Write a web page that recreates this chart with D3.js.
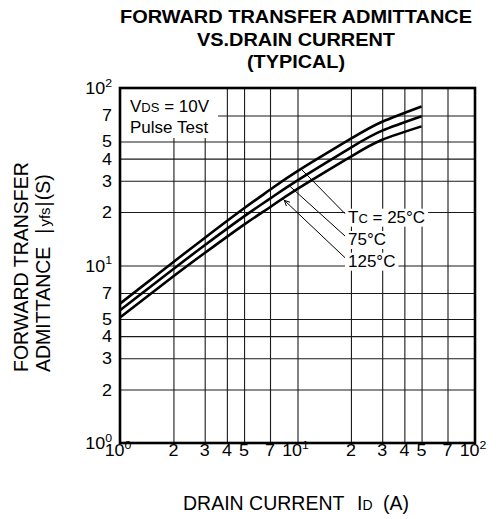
<!DOCTYPE html>
<html><head><meta charset="utf-8">
<script src="https://cdn.jsdelivr.net/npm/d3@7"></script>
<style>
body{margin:0;background:#fff}
svg{display:block;font-family:Arial,"Liberation Sans",Helvetica,sans-serif}
</style>
</head><body>
<svg id="chart" width="496" height="519"></svg>
<script>
// ---- data ----
const drainCurrent = [1, 2, 3, 5, 7, 10, 20, 30, 50];
const yfs25C  = [6.1, 10.47, 14.3, 21.0, 26.7, 34.0, 51.8, 64.5, 78.7];
const yfs75C  = [5.6, 9.56, 13.0, 18.9, 23.8, 30.2, 46.2, 57.5, 69.3];
const yfs125C = [5.09, 8.69, 11.76, 17.0, 21.3, 27.0, 41.1, 51.1, 60.8];
const seriesLabels = ["25°C", "75°C", "125°C"];
const leaderAnchorsA = [10.56, 9.07, 8.32];
const gridValues = [2, 3, 4, 5, 7, 10, 20, 30, 40, 50, 70];
const minorTickValues = [2, 3, 4, 5, 7, 20, 30, 40, 50, 70];
const minorTickLabels = ["2", "3", "4", "5", "7", "2", "3", "4", "5", "7"];
const decadeValues = [1, 10, 100];
const decadeExponents = ["0", "1", "2"];
const titleLines = ["FORWARD TRANSFER ADMITTANCE", "VS.DRAIN CURRENT", "(TYPICAL)"];

// ---- layout ----
const L = 120, R = 475, T = 88, B = 443;
const svg = d3.select("#chart");
const x = d3.scaleLog().domain([1, 100]).range([L, R]);
const y = d3.scaleLog().domain([1, 100]).range([B, T]);

// grid via axes
const gx = svg.append("g").attr("transform", `translate(0,${B})`)
  .call(d3.axisBottom(x).tickValues(gridValues).tickSize(-(B - T)).tickFormat(""));
const gy = svg.append("g").attr("transform", `translate(${L},0)`)
  .call(d3.axisLeft(y).tickValues(gridValues).tickSize(-(R - L)).tickFormat(""));
[gx, gy].forEach(g => {
  g.select(".domain").remove();
  g.selectAll("line").attr("stroke", "#1a1a1a").attr("stroke-width", 1.1);
});

// white box behind condition text
svg.append("rect").attr("x", L).attr("y", T).attr("width", 98).attr("height", 50).attr("fill", "#fff");

const labelLayer = svg.append("g");

// frame
svg.append("rect").attr("x", L).attr("y", T).attr("width", R - L).attr("height", B - T)
  .attr("fill", "none").attr("stroke", "#000").attr("stroke-width", 2.6);

// curves
const series = [yfs25C, yfs75C, yfs125C];
const line = d3.line().x(d => x(d[0])).y(d => y(d[1])).curve(d3.curveNatural);
series.forEach(s => {
  svg.append("path").datum(drainCurrent.map((a, i) => [a, s[i]]))
    .attr("d", line).attr("fill", "none").attr("stroke", "#000")
    .attr("stroke-width", 2.6).attr("stroke-linejoin", "round");
});

function valueAt(s, a) {
  for (let i = 0; i < drainCurrent.length - 1; i++) {
    if (a >= drainCurrent[i] && a <= drainCurrent[i + 1]) {
      const t = (Math.log(a) - Math.log(drainCurrent[i])) / (Math.log(drainCurrent[i + 1]) - Math.log(drainCurrent[i]));
      return Math.exp(Math.log(s[i]) + t * (Math.log(s[i + 1]) - Math.log(s[i])));
    }
  }
  return s[s.length - 1];
}

// temperature labels
const labelX = 348, labelBase = [222.7, 245, 266.7];
seriesLabels.forEach((lab, i) => {
  const t = labelLayer.append("text").attr("x", labelX).attr("y", labelBase[i])
    .attr("font-size", 17).attr("fill", "#000");
  if (i === 0) {
    t.append("tspan").text("T");
    t.append("tspan").attr("font-size", 13).text("C");
    t.append("tspan").text(" = " + lab);
  } else t.text(lab);
  const bb = t.node().getBBox();
  labelLayer.insert("rect", "text").attr("x", bb.x - 3).attr("y", bb.y + 1)
    .attr("width", bb.width + 6).attr("height", bb.height - 1).attr("fill", "#fff");
  const a = leaderAnchorsA[i];
  const x0 = x(a), y0 = y(valueAt(series[i], a));
  const x1 = 345, y1 = labelBase[i] - 9;
  svg.append("line").attr("x1", x0).attr("y1", y0 + 1).attr("x2", x1).attr("y2", y1)
    .attr("stroke", "#000").attr("stroke-width", 1);
  if (i === 2) {
    const ang = Math.atan2(y1 - y0, x1 - x0);
    const ax = x0 + 1, ay = y0 + 2;
    [0.45, -0.45].forEach(d => {
      svg.append("line").attr("x1", ax).attr("y1", ay)
        .attr("x2", ax + 6 * Math.cos(ang + d)).attr("y2", ay + 6 * Math.sin(ang + d))
        .attr("stroke", "#000").attr("stroke-width", 1);
    });
  }
});

// condition text
const c1 = svg.append("text").attr("x", 130).attr("y", 111.7).attr("font-size", 17);
c1.append("tspan").text("V");
c1.append("tspan").attr("font-size", 13).text("DS");
c1.append("tspan").text(" = 10V");
svg.append("text").attr("x", 130).attr("y", 133.3).attr("font-size", 17).text("Pulse Test");

// tick labels
const SX = 1.12;
function tickText(px, py, anchor, main, sup) {
  const g = svg.append("g").attr("transform", `translate(${px},${py}) scale(${SX},1)`);
  const t = g.append("text").attr("text-anchor", anchor).attr("font-size", 16).attr("fill", "#000");
  t.append("tspan").text(main);
  if (sup !== undefined) t.append("tspan").attr("font-size", 11).attr("dy", -7.5).text(sup);
}
minorTickValues.forEach((v, i) => {
  tickText(x(v), 456, "middle", minorTickLabels[i]);
  tickText(112, y(v) + 6, "end", minorTickLabels[i]);
});
decadeValues.forEach((v, i) => {
  tickText(x(v) - 2, 456, "middle", "10", decadeExponents[i]);
  tickText(112, y(v) + 6, "end", "10", decadeExponents[i]);
});

// title
titleLines.forEach((s, i) => {
  svg.append("text").attr("x", 296).attr("y", [23, 46, 68][i]).attr("text-anchor", "middle")
    .attr("font-size", 18).attr("font-weight", "bold")
    .attr("textLength", [352, 198, 98][i]).attr("lengthAdjust", "spacingAndGlyphs").text(s);
});

// axis titles
const xt = svg.append("text").attr("x", 183).attr("y", 510).attr("font-size", 19.5);
xt.append("tspan").text("DRAIN CURRENT");
xt.append("tspan").attr("x", 357).text("I");
xt.append("tspan").attr("font-size", 14).text("D");
xt.append("tspan").attr("x", 383).text("(A)");

svg.append("text").attr("transform", "translate(28.3,372) rotate(-90)")
  .attr("font-size", 19.5).text("FORWARD TRANSFER");
const y2t = svg.append("text").attr("transform", "translate(50,372) rotate(-90)")
  .attr("font-size", 19.5);
y2t.append("tspan").text("ADMITTANCE");
y2t.append("tspan").attr("dx", 13).text("|");
y2t.append("tspan").attr("font-size", 15).attr("dx", 2).text("yfs");
y2t.append("tspan").attr("dx", 1).text("|");
y2t.append("tspan").attr("dx", 1).text("(S)");
</script>
</body></html>
